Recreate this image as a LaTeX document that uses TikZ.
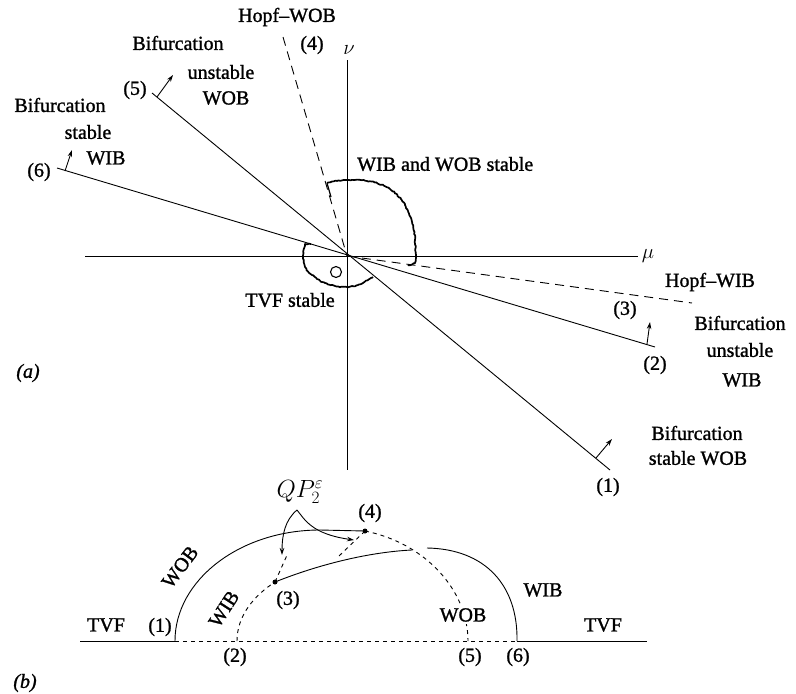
\documentclass[tikz,border=0pt]{standalone}
\usepackage{fontspec}
\setmainfont{Liberation Serif}
\newfontfamily\heavy{Liberation Serif}[FakeBold=1.2,Ligatures=TeX]
\usetikzlibrary{arrows.meta,decorations.pathmorphing}
\begin{document}
\pgfmathsetseed{7}
\begin{tikzpicture}[x=1pt,y=-1pt,
  lbl/.style={font=\heavy\fontsize{20}{22}\selectfont, inner sep=0pt, anchor=center},
  thinline/.style={line width=0.9pt},
  hopfdash/.style={line width=0.9pt, dash pattern=on 9pt off 6pt},
  bdash/.style={line width=0.9pt, dash pattern=on 4pt off 4pt},
  tipline/.style={line width=0.9pt, -{Stealth[length=7pt,width=4.5pt]}},
  wiggle/.style={line width=1.7pt, line join=round, decorate,
     decoration={random steps, segment length=1.6pt, amplitude=0.55pt}},
  dot/.style={circle, fill=black, inner sep=0pt, minimum size=5pt}]
\useasboundingbox (0,0) rectangle (796,694);

% ---------------- part (a) ----------------
\coordinate (O) at (347,256);
\coordinate (axL) at (85,256);
\coordinate (axR) at (638,256);
\coordinate (axT) at (347,60);
\coordinate (axB) at (347,470);
\draw[thinline] (axL) -- (axR);
\draw[thinline] (axT) -- (axB);
\node[lbl] (mu) at (648,256) {$\mu$};
\node[lbl] (nu) at (349,50) {$\nu$};

% solid bifurcation lines
\coordinate (e6) at (57,168);
\coordinate (e2) at (655,347);
\coordinate (e5) at (152,93);
\coordinate (e1) at (610,470);
\draw[thinline] (e6) -- (e2);
\draw[thinline] (e5) -- (e1);

% dashed Hopf lines
\coordinate (h4) at (283,37);
\coordinate (h3) at (692,303);
\draw[hopfdash] (h4) -- (O);
\draw[hopfdash] (O) -- (h3);

% small arrows
\coordinate (a5s) at (157,97);  \coordinate (a5e) at (173,75);
\coordinate (a6s) at (65,171);  \coordinate (a6e) at (72,150);
\coordinate (a2s) at (647,344); \coordinate (a2e) at (650,322);
\coordinate (a1s) at (596,458); \coordinate (a1e) at (612,439);
\draw[tipline] (a5s) -- (a5e);
\draw[tipline] (a6s) -- (a6e);
\draw[tipline] (a2s) -- (a2e);
\draw[tipline] (a1s) -- (a1e);

% stability boundaries
\coordinate (wt0) at (331,197);
\coordinate (wt1) at (327,183);
\draw[line width=1.2pt] (wt0) -- (wt1);
\draw[wiggle] (327,183) -- (332,181.5) -- (337,181) -- (342,180.4) -- (347,180) -- (354,180) -- (362,180.2) -- (370,181.3) -- (377,183) -- (384,185.7) -- (390,189) -- (396,193.6) -- (401,199) -- (405,205) -- (408,211) -- (411,218) -- (413,225) -- (414.5,232) -- (415,240) -- (415.6,248) -- (416,255) -- (415.8,260) -- (415,263) -- (412,264.5) -- (408,265);
\draw[wiggle] (311,244) -- (305,244) -- (303.5,250) -- (303,257) -- (303.6,262) -- (305,267) -- (308,271.5) -- (312,275) -- (317,279) -- (322,282) -- (328,284.5) -- (335,286) -- (341,286.8) -- (347,287) -- (353,286.3) -- (358,285) -- (363,283) -- (368,280) -- (373,277);
\node[draw, circle, line width=1.1pt, minimum size=11pt, inner sep=0pt] (circ) at (336,272) {};

% labels (a)
\node[lbl] (lHopfWOB) at (287,17) {Hopf\textendash WOB};
\node[lbl] (l4a) at (312,45) {(4)};
\node[lbl] (l5bif) at (178,43) {Bifurcation};
\node[lbl] (l5uns) at (221,72) {unstable};
\node[lbl] (l5wob) at (226,98) {WOB};
\node[lbl] (l5) at (135,90) {(5)};
\node[lbl] (l6bif) at (60,105) {Bifurcation};
\node[lbl] (l6st) at (88,132) {stable};
\node[lbl] (l6wib) at (106,158) {WIB};
\node[lbl] (l6) at (39,172) {(6)};
\node[lbl, anchor=west] (lboth) at (357,164) {WIB and WOB stable};
\node[lbl] (ltvf) at (290,300) {TVF stable};
\node[lbl] (lHopfWIB) at (710,282) {Hopf\textendash WIB};
\node[lbl] (l3a) at (625,310) {(3)};
\node[lbl] (l2bif) at (740,323) {Bifurcation};
\node[lbl] (l2uns) at (740,350) {unstable};
\node[lbl] (l2wib) at (742,380) {WIB};
\node[lbl] (l2) at (655,365) {(2)};
\node[lbl] (l1bif) at (697,433) {Bifurcation};
\node[lbl] (l1st) at (698,458) {stable WOB};
\node[lbl] (l1) at (608,487) {(1)};
\node[lbl] (la) at (28,373) {\textit{(a)}};

% ---------------- part (b) ----------------
\coordinate (bL) at (80,641);
\coordinate (p1) at (175,641);
\coordinate (p2) at (237,641);
\coordinate (p5) at (468,641);
\coordinate (p6) at (517,641);
\coordinate (bR) at (647,641);
\draw[thinline] (bL) -- (p1);
\draw[bdash] (p1) -- (p6);
\draw[thinline] (p6) -- (bR);

\node[dot] (p3) at (275,582) {};
\node[dot] (p4) at (365,531) {};

% WOB branch
\coordinate (wobtop) at (320,530);
\draw[thinline] (p1) .. controls (175,580) and (240,530) .. (wobtop) -- (p4.center);
\draw[bdash] (p4.center) .. controls (425,543) and (468,590) .. (p5);
% WIB branch
\draw[bdash] (p2) .. controls (237,615) and (255,595) .. (p3.center);
\coordinate (wibg1) at (412,550);
\coordinate (wibg2) at (427,548);
\draw[thinline] (p3.center) .. controls (320,564) and (370,552) .. (wibg1);
\draw[thinline] (wibg2) .. controls (485,549) and (518,585) .. (p6);
% QP stubs
\coordinate (s3) at (288,553);
\coordinate (s4) at (338,557);
\draw[bdash] (p3.center) -- (s3);
\draw[bdash] (p4.center) -- (s4);

% QP label and arrows
\node[lbl, font=\fontsize{24}{26}\selectfont] (qp) at (300,492) {$QP^{\varepsilon}_{2}$};
\coordinate (fork) at (297,510);
\coordinate (qtip1) at (282,555);
\coordinate (qtip2) at (354,540);
\draw[tipline] (fork) .. controls (285,520) and (282,535) .. (qtip1);
\draw[tipline] (fork) .. controls (305,520) and (312,534) .. (qtip2);

% labels (b)
\node[lbl] (l4b) at (370,513) {(4)};
\node[lbl] (l3b) at (288,600) {(3)};
\node[lbl] (tvfL) at (106,625) {TVF};
\node[lbl] (l1b) at (160,627) {(1)};
\node[lbl] (l2b) at (235,657) {(2)};
\node[lbl] (l5b) at (470,657) {(5)};
\node[lbl] (l6b) at (518,657) {(6)};
\node[lbl, fill=white, inner sep=2pt] (wobR) at (463,615) {WOB};
\node[lbl] (wibR) at (543,590) {WIB};
\node[lbl] (tvfR) at (603,625) {TVF};
\node[lbl, rotate=53] (wobL) at (180,567) {WOB};
\node[lbl, rotate=57] (wibL) at (224,609) {WIB};
\node[lbl] (lb) at (25,683) {\textit{(b)}};
\end{tikzpicture}
\end{document}
